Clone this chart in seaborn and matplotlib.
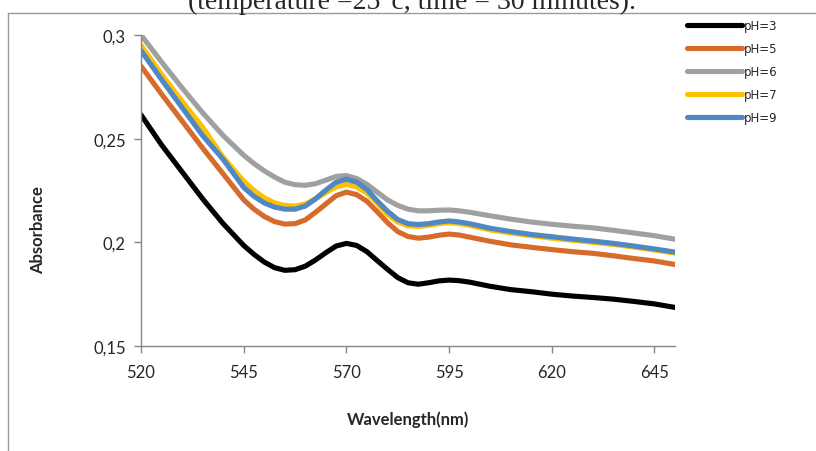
import matplotlib
matplotlib.use("Agg")
import matplotlib.pyplot as plt
import seaborn as sns
import pandas as pd
from matplotlib.lines import Line2D

# wavelengths (nm): 5 nm steps, 2.5 nm through the band region
wavelength = [520, 525, 530, 535, 540,
              545, 547.5, 550, 552.5, 555, 557.5, 560, 562.5, 565, 567.5, 570, 572.5,
              575, 577.5, 580, 582.5, 585, 587.5, 590, 592.5, 595, 597.5, 600,
              605, 610, 615, 620, 625, 630, 635, 640, 645, 650]

ph3 = [0.2615, 0.2470, 0.2340, 0.2210, 0.2090,
       0.1985, 0.1942, 0.1905, 0.1878, 0.1865, 0.1868, 0.1885, 0.1915, 0.1950, 0.1982,
       0.1995, 0.1985, 0.1955, 0.1912, 0.1870, 0.1830, 0.1805, 0.1798, 0.1805, 0.1814,
       0.1818, 0.1815, 0.1808,
       0.1788, 0.1772, 0.1762, 0.1750, 0.1741, 0.1734, 0.1726, 0.1715, 0.1703, 0.1686]
ph5 = [0.2850, 0.2715, 0.2585, 0.2455, 0.2330,
       0.2205, 0.2160, 0.2125, 0.2100, 0.2088, 0.2090, 0.2108, 0.2145, 0.2185, 0.2225,
       0.2242, 0.2230, 0.2198, 0.2148, 0.2095, 0.2052, 0.2028, 0.2020, 0.2025, 0.2034,
       0.2040, 0.2035, 0.2025,
       0.2005, 0.1988, 0.1976, 0.1965, 0.1955, 0.1947, 0.1935, 0.1922, 0.1910, 0.1893]
ph6 = [0.3000, 0.2870, 0.2745, 0.2625, 0.2515,
       0.2420, 0.2380, 0.2345, 0.2315, 0.2290, 0.2278, 0.2275, 0.2283, 0.2300, 0.2318,
       0.2322, 0.2308, 0.2280, 0.2242, 0.2205, 0.2178, 0.2160, 0.2152, 0.2152, 0.2155,
       0.2156, 0.2152, 0.2145,
       0.2128, 0.2112, 0.2098, 0.2087, 0.2078, 0.2070, 0.2058, 0.2045, 0.2032, 0.2015]
ph7 = [0.2950, 0.2810, 0.2680, 0.2555, 0.2410,
       0.2295, 0.2250, 0.2215, 0.2190, 0.2178, 0.2175, 0.2185, 0.2210, 0.2240, 0.2268,
       0.2280, 0.2268, 0.2238, 0.2188, 0.2135, 0.2098, 0.2080, 0.2076, 0.2082, 0.2090,
       0.2095, 0.2090, 0.2082,
       0.2060, 0.2045, 0.2032, 0.2020, 0.2010, 0.2000, 0.1990, 0.1977, 0.1963, 0.1948]
ph9 = [0.2925, 0.2785, 0.2650, 0.2515, 0.2400,
       0.2265, 0.2222, 0.2190, 0.2170, 0.2160, 0.2160, 0.2175, 0.2210, 0.2252, 0.2290,
       0.2305, 0.2290, 0.2255, 0.2200, 0.2150, 0.2110, 0.2090, 0.2086, 0.2090, 0.2098,
       0.2103, 0.2098, 0.2090,
       0.2068, 0.2052, 0.2038, 0.2027, 0.2016, 0.2006, 0.1995, 0.1982, 0.1968, 0.1953]

series_names = ["pH=3", "pH=5", "pH=6", "pH=7", "pH=9"]
series_values = [ph3, ph5, ph6, ph7, ph9]
colors = ["#000000", "#D66B2B", "#A0A0A0", "#FFC000", "#4F88C2"]

y_ticks = [0.15, 0.2, 0.25, 0.3]
y_tick_labels = ["0,15", "0,2", "0,25", "0,3"]
x_ticks = [520, 545, 570, 595, 620, 645]

df = pd.concat(
    [pd.DataFrame({"Wavelength": wavelength, "Absorbance": vals, "pH": name})
     for name, vals in zip(series_names, series_values)],
    ignore_index=True,
)

sns.set_style("white")
plt.rcParams["font.family"] = ["Lato", "DejaVu Sans"]

fig = plt.figure(figsize=(8.16, 4.52), dpi=100)
W, H = 816, 452
ax = fig.add_axes([141 / W, 1 - 347 / H, (675 - 141) / W, (347 - 36) / H])

sns.lineplot(data=df, x="Wavelength", y="Absorbance", hue="pH",
             palette=dict(zip(series_names, colors)), linewidth=3.7,
             sort=False, ax=ax, legend=False)

ax.set_xlim(520, 650)
ax.set_ylim(0.15, 0.3)
ax.set_xticks(x_ticks)
ax.set_yticks(y_ticks)
ax.set_yticklabels(y_tick_labels)
ax.tick_params(axis="both", direction="out", length=5, width=1, color="#868686",
               labelsize=12, left=True, bottom=True)
ax.tick_params(axis="x", pad=8)
ax.tick_params(axis="y", pad=6)
for side in ["top", "right"]:
    ax.spines[side].set_visible(False)
for side in ["left", "bottom"]:
    ax.spines[side].set_color("#868686")
    ax.spines[side].set_linewidth(1)

ax.set_xlabel("Wavelength(nm)", fontsize=12, fontweight="bold", labelpad=22)
ax.set_ylabel("Absorbance", fontsize=12, fontweight="bold")
ax.yaxis.set_label_coords((46 - 141) / (675 - 141), (347 - 230) / (347 - 36))

# legend outside the plot area, top right
handles = [Line2D([0], [0], color=c, lw=3.7, solid_capstyle="round") for c in colors]
fig.legend(handles, series_names, loc="upper left",
           bbox_to_anchor=(687 / W, 1 - 20 / H), frameon=False,
           prop={"family": "DejaVu Sans", "size": 8.5}, handlelength=4.7,
           handletextpad=0.15, labelspacing=0.85, borderpad=0, borderaxespad=0)

# chart frame and the caption cut off above it
fig.add_artist(Line2D([8 / W, 1], [1 - 14 / H, 1 - 14 / H], color="#9a9a9a", lw=1,
                      transform=fig.transFigure))
fig.add_artist(Line2D([8 / W, 8 / W], [0, 1 - 14 / H], color="#9a9a9a", lw=1,
                      transform=fig.transFigure))
fig.text(412 / W, 1 - 9 / H, "(temperature =25\u00b0c, time = 30 minutes).",
         family=["Liberation Serif", "DejaVu Serif"], fontsize=20,
         ha="center", va="baseline")

fig.savefig("out.png", dpi=100)
